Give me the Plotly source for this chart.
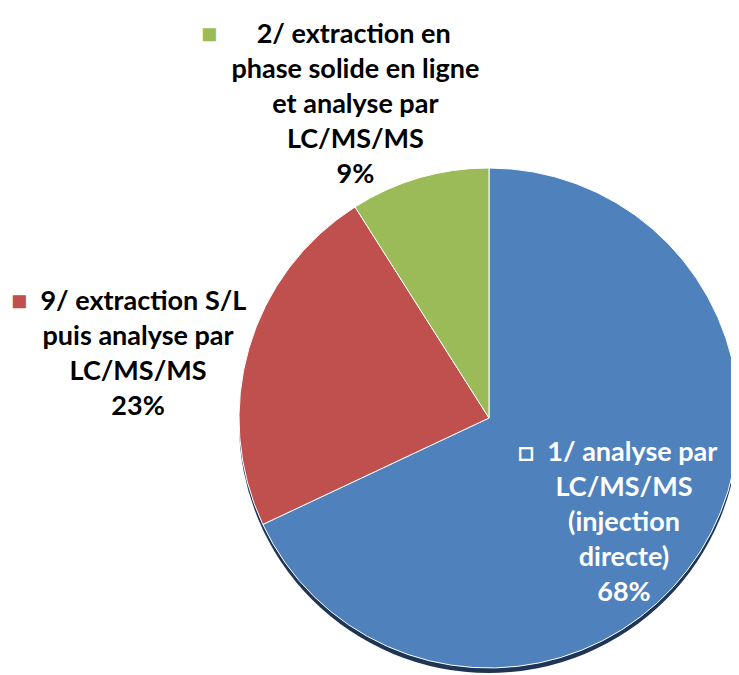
import plotly.graph_objects as go

# slice data (clockwise from 12 o'clock)
labels = ["1/ analyse par<br>LC/MS/MS<br>(injection<br>directe)",
          "9/ extraction S/L<br>puis analyse par<br>LC/MS/MS",
          "2/ extraction en<br>phase solide en ligne<br>et analyse par<br>LC/MS/MS"]
values = [68, 23, 9]
colors = ['#4F81BD', '#C0504D', '#9BBB59']

W, H = 739, 675
OFF = 8                      # page body margin
cx, cy, r = 489 - OFF, 418 - OFF, 250   # pie centre / radius in px

def dom(dy=0):
    return dict(x=[(cx - r) / W, min(1.0, (cx + r) / W)],
                y=[(H - (cy + dy) - r) / H, (H - (cy + dy) + r) / H])

fig = go.Figure()

# shadow under the pie
fig.add_trace(go.Pie(values=[1], marker=dict(colors=['#1F3556']),
                     textinfo='none', hoverinfo='skip', showlegend=False,
                     domain=dom(5)))

fig.add_trace(go.Pie(
    labels=labels, values=values, sort=False, direction='clockwise', rotation=0,
    marker=dict(colors=colors, line=dict(color='white', width=1)),
    textinfo='none', showlegend=False, domain=dom()))

font = dict(family='Lato, Carlito, sans-serif', size=27)
total = sum(values)
pct = [f"{round(v * 100 / total)}%" for v in values]

# label positions (screen px) and colours
lab_pos = [(624, 520), (138, 352), (355, 103)]
lab_col = ['white', 'black', 'black']
marks = ["<span style='color:white'>□</span>",
         f"<span style='color:{colors[1]}'>■</span>",
         f"<span style='color:{colors[2]}'>■</span>"]
gap = [2, 2, 6]       # spaces between key mark and text
trail = [2, 3, 9]     # trailing spaces on first line
nb = "\u00a0"

for i in range(3):
    txt = labels[i] + "<br>" + pct[i]
    first, rest = txt.split("<br>", 1)
    txt = marks[i] + nb * gap[i] + first + nb * trail[i] + "<br>" + rest
    fig.add_annotation(x=(lab_pos[i][0] - OFF) / W, y=1 - (lab_pos[i][1] - OFF) / H,
                       xref='paper', yref='paper', text=f"<b>{txt}</b>",
                       showarrow=False, align='center',
                       xanchor='center', yanchor='middle',
                       font=dict(font, color=lab_col[i]))

fig.update_layout(width=W, height=H, margin=dict(l=0, r=0, t=0, b=0),
                  paper_bgcolor='white', plot_bgcolor='white')
fig.write_html("out.html")
